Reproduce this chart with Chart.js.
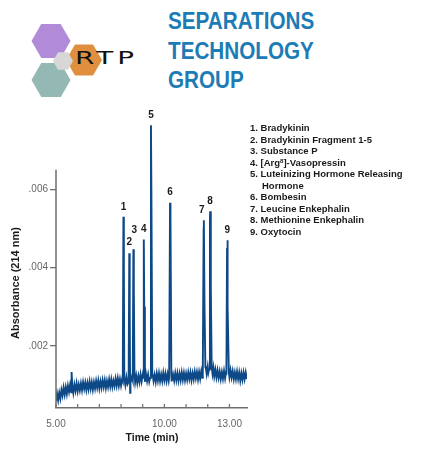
<!DOCTYPE html>
<html>
<head>
<meta charset="utf-8">
<script src="https://cdn.jsdelivr.net/npm/chart.js@4.4.1/dist/chart.umd.min.js"></script>
<style>
  html, body { margin:0; padding:0; background:#fff; }
  #wrap { position:relative; width:424px; height:451px; overflow:hidden; font-family:"Liberation Sans", Arial, sans-serif; }
  #chartBox { position:absolute; left:0; top:0; width:424px; height:451px; }
  #logo { position:absolute; left:0; top:0; }
  .rtp { position:absolute; left:75px; top:47px; font-size:18px; color:#111; letter-spacing:2.5px; transform:scaleX(1.55); transform-origin:left top; font-family:"DejaVu Sans", sans-serif; }
  .company { position:absolute; left:168px; top:7px; color:#1d7bb5; font-size:23.5px; font-weight:bold; line-height:29.5px; transform:scaleX(0.88); transform-origin:left top; white-space:nowrap; }
  .legend { position:absolute; left:250px; top:122px; font-size:9.5px; font-weight:bold; color:#1a1a1a; line-height:11.5px; white-space:nowrap; }
  .legend .ind { padding-left:12px; }
  .legend sup { font-size:6px; vertical-align:3px; line-height:0; }
</style>
</head>
<body>
<div id="wrap">
  <svg id="logo" width="160" height="110">
    <polygon id="hexPurple" fill="#b18bd8"></polygon>
    <polygon id="hexTeal" fill="#94b8b4"></polygon>
    <polygon id="hexOrange" fill="#e08f3e"></polygon>
    <polygon id="hexGray" fill="#d7d7d7"></polygon>
  </svg>
  <div class="rtp">RTP</div>
  <div class="company">SEPARATIONS<br>TECHNOLOGY<br>GROUP</div>
  <div id="chartBox"><canvas id="c" width="424" height="451"></canvas></div>
  <div class="legend">
    <div>1. Bradykinin</div>
    <div>2. Bradykinin Fragment 1-5</div>
    <div>3. Substance P</div>
    <div>4. [Arg<sup>8</sup>]-Vasopressin</div>
    <div>5. Luteinizing Hormone Releasing</div>
    <div class="ind">Hormone</div>
    <div>6. Bombesin</div>
    <div>7. Leucine Enkephalin</div>
    <div>8. Methionine Enkephalin</div>
    <div>9. Oxytocin</div>
  </div>
</div>
<script>
// ---------------- data ----------------
const peakLabels = ['1','2','3','4','5','6','7','8','9'];
const peakTimes = [8.11, 8.38, 8.57, 9.05, 9.38, 10.26, 11.82, 12.11, 12.90];
const peakHeights = [0.00530, 0.00437, 0.00447, 0.00472, 0.00764, 0.00566, 0.00521, 0.00544, 0.00470];

// noisy baseline trace [time (min), absorbance]
const baseline = [
 [5.00,0.00058],[5.05,0.00078],[5.10,0.00061],[5.15,0.00080],[5.20,0.00065],[5.25,0.00087],[5.30,0.00073],[5.35,0.00093],
 [5.40,0.00075],[5.45,0.00094],[5.50,0.00077],[5.55,0.00098],[5.60,0.00082],[5.65,0.00100],[5.70,0.00081],[5.72,0.00133],
 [5.75,0.00099],[5.80,0.00080],[5.85,0.00101],[5.90,0.00085],[5.95,0.00104],[6.00,0.00084],[6.05,0.00101],[6.10,0.00086],
 [6.15,0.00104],[6.20,0.00087],[6.25,0.00107],[6.30,0.00090],[6.35,0.00106],[6.40,0.00087],[6.45,0.00105],[6.50,0.00089],
 [6.55,0.00109],[6.60,0.00090],[6.65,0.00107],[6.70,0.00088],[6.75,0.00107],[6.80,0.00091],[6.85,0.00110],[6.90,0.00093],
 [6.95,0.00111],[7.00,0.00091],[7.05,0.00109],[7.10,0.00093],[7.15,0.00112],[7.20,0.00095],[7.25,0.00112],[7.30,0.00092],
 [7.35,0.00110],[7.40,0.00095],[7.45,0.00114],[7.50,0.00096],[7.55,0.00114],[7.60,0.00095],[7.65,0.00111],[7.70,0.00097],
 [7.75,0.00116],[7.80,0.00098],[7.85,0.00117],[7.90,0.00098],[7.95,0.00115],[8.00,0.00098],[8.05,0.00115],
 [8.15,0.00118],[8.20,0.00100],[8.25,0.00120],[8.30,0.00102],
 [8.42,0.00080],[8.45,0.00105],[8.50,0.00121],
 [8.62,0.00124],[8.65,0.00106],[8.70,0.00124],[8.75,0.00105],[8.80,0.00123],[8.85,0.00107],[8.90,0.00127],[8.95,0.00109],[9.00,0.00126],
 [9.10,0.00108],[9.15,0.00128],[9.20,0.00110],[9.25,0.00127],[9.30,0.00108],
 [9.45,0.00129],[9.50,0.00110],[9.55,0.00126],[9.60,0.00108],[9.65,0.00129],[9.70,0.00111],[9.75,0.00130],[9.80,0.00110],
 [9.85,0.00127],[9.90,0.00110],[9.95,0.00131],[10.00,0.00112],[10.05,0.00129],[10.10,0.00110],[10.15,0.00128],[10.20,0.00111],
 [10.32,0.00129],[10.35,0.00109],[10.40,0.00127],[10.45,0.00111],[10.50,0.00130],[10.55,0.00112],[10.60,0.00130],[10.65,0.00111],
 [10.70,0.00129],[10.75,0.00112],[10.80,0.00132],[10.85,0.00113],[10.90,0.00131],[10.95,0.00112],[11.00,0.00129],[11.05,0.00113],
 [11.10,0.00132],[11.15,0.00115],[11.20,0.00132],[11.25,0.00112],[11.30,0.00130],[11.35,0.00114],[11.40,0.00134],[11.45,0.00117],
 [11.50,0.00133],[11.55,0.00114],[11.60,0.00133],[11.65,0.00116],[11.70,0.00135],[11.75,0.00118],
 [11.90,0.00148],[11.95,0.00128],[12.00,0.00147],[12.03,0.00132],
 [12.18,0.00150],[12.22,0.00128],[12.26,0.00144],[12.30,0.00122],[12.35,0.00139],[12.40,0.00119],[12.45,0.00137],[12.50,0.00118],
 [12.55,0.00134],[12.60,0.00115],[12.65,0.00133],[12.70,0.00116],[12.75,0.00136],[12.80,0.00117],[12.85,0.00135],
 [12.97,0.00139],[13.00,0.00120],[13.05,0.00138],[13.10,0.00119],[13.15,0.00135],[13.20,0.00115],[13.25,0.00132],[13.30,0.00115],
 [13.35,0.00134],[13.40,0.00115],[13.45,0.00132],[13.50,0.00111],[13.55,0.00130],[13.60,0.00113],[13.65,0.00132],[13.70,0.00115],
 [13.75,0.00132],[13.80,0.00115]
];

// peak profiles [time, absorbance]
const peakPoints = [
 [8.08,0.00110],[8.11,0.00530],[8.13,0.00400],[8.15,0.00118],
 [8.35,0.00108],[8.38,0.00437],[8.40,0.00300],[8.42,0.00080],
 [8.54,0.00112],[8.57,0.00447],[8.59,0.00350],[8.62,0.00124],
 [9.02,0.00118],[9.05,0.00472],[9.07,0.00300],[9.10,0.00108],
 [9.34,0.00118],[9.38,0.00764],[9.40,0.00600],[9.44,0.00125],
 [10.22,0.00120],[10.26,0.00566],[10.28,0.00530],[10.32,0.00123],
 [11.77,0.00126],[11.81,0.00500],[11.82,0.00521],[11.85,0.00300],[11.89,0.00145],
 [12.06,0.00140],[12.10,0.00520],[12.11,0.00544],[12.14,0.00350],[12.18,0.00146],
 [12.86,0.00126],[12.89,0.00450],[12.90,0.00470],[12.93,0.00300],[12.97,0.00134]
];

const yTickValues = [0.002, 0.004, 0.006];
const xTickValues = [5, 6, 7, 8, 9, 10, 11, 12, 13];
const xLabeledTicks = [5, 10, 13];

// ---------------- logo hexagons ----------------
function hexPoints(cx, cy, r) {
  const pts = [];
  for (let i = 0; i < 6; i++) {
    const a = Math.PI / 3 * i;
    pts.push((cx + r * Math.cos(a)).toFixed(1) + ',' + (cy + r * Math.sin(a)).toFixed(1));
  }
  return pts.join(' ');
}
document.getElementById('hexPurple').setAttribute('points', hexPoints(51, 41, 19.5));
document.getElementById('hexTeal').setAttribute('points', hexPoints(51, 80, 19.5));
document.getElementById('hexOrange').setAttribute('points', hexPoints(84, 60, 18));
document.getElementById('hexGray').setAttribute('points', hexPoints(63, 61, 10));

// ---------------- chart ----------------
const trace = baseline.concat(peakPoints).sort((a, b) => a[0] - b[0]).map(p => ({x: p[0], y: p[1]}));

const AXIS_COLOR = '#6e6e6e';
const labelNudge = { '3': [1, -9], '7': [-2, 0], '2': [0, -1] };
const decor = {
  id: 'decor',
  afterDraw(chart) {
    const {ctx, chartArea, scales} = chart;
    const xs = scales.x, ys = scales.y;
    ctx.save();
    ctx.strokeStyle = AXIS_COLOR;
    ctx.lineWidth = 1.5;
    ctx.beginPath();
    ctx.moveTo(chartArea.left, chartArea.bottom);
    ctx.lineTo(chartArea.left, ys.getPixelForValue(0.0065));
    ctx.stroke();
    ctx.lineWidth = 1.2;
    xTickValues.forEach(v => {
      const px = xs.getPixelForValue(v);
      ctx.beginPath();
      ctx.moveTo(px, chartArea.bottom);
      ctx.lineTo(px, chartArea.bottom - 4);
      ctx.stroke();
    });
    ctx.fillStyle = '#1a1a1a';
    ctx.font = 'bold 10px "Liberation Sans", Arial, sans-serif';
    ctx.textAlign = 'center';
    ctx.textBaseline = 'bottom';
    peakLabels.forEach((lab, i) => {
      const n = labelNudge[lab] || [0, 0];
      const px = xs.getPixelForValue(peakTimes[i]);
      const py = ys.getPixelForValue(peakHeights[i]);
      ctx.fillText(lab, px + n[0], py - 5 + n[1]);
    });
    ctx.font = 'bold 10.5px "Liberation Sans", Arial, sans-serif';
    ctx.textBaseline = 'middle';
    ctx.fillText('Time (min)', 152, 438);
    ctx.font = 'bold 11px "Liberation Sans", Arial, sans-serif';
    ctx.translate(16, 283);
    ctx.rotate(-Math.PI / 2);
    ctx.fillText('Absorbance (214 nm)', 0, 0);
    ctx.restore();
  }
};

new Chart(document.getElementById('c'), {
  type: 'line',
  data: {
    datasets: [{
      data: trace,
      borderColor: '#0d4887',
      borderWidth: 1.9,
      pointRadius: 0,
      tension: 0,
      fill: false
    }]
  },
  options: {
    responsive: false,
    animation: false,
    events: [],
    layout: { padding: { left: 0, right: 177, top: 119, bottom: 23 } },
    plugins: { legend: { display: false }, tooltip: { enabled: false } },
    scales: {
      x: {
        type: 'linear',
        min: 5, max: 13.81,
        afterFit(s) { s.height = 20; },
        afterBuildTicks(s) { s.ticks = xTickValues.map(v => ({value: v})); },
        grid: { display: true, drawOnChartArea: false, drawTicks: false },
        border: { display: true, color: AXIS_COLOR, width: 1.5 },
        ticks: {
          autoSkip: false, maxRotation: 0, padding: 10,
          color: '#666', font: { size: 10, family: '"Liberation Sans", Arial, sans-serif' },
          callback: v => xLabeledTicks.includes(v) ? v.toFixed(2) : ''
        }
      },
      y: {
        type: 'linear',
        min: 0.00041, max: 0.0078,
        afterFit(s) { s.width = 56; },
        afterBuildTicks(s) { s.ticks = yTickValues.map(v => ({value: v})); },
        grid: { display: true, drawOnChartArea: false, drawTicks: true, tickLength: 6, color: AXIS_COLOR, lineWidth: 1.3 },
        border: { display: false },
        ticks: {
          padding: 2,
          color: '#666', font: { size: 10, family: '"Liberation Sans", Arial, sans-serif' },
          callback: v => '.' + String(Math.round(v * 1000)).padStart(3, '0')
        }
      }
    }
  },
  plugins: [decor]
});
</script>
</body>
</html>
